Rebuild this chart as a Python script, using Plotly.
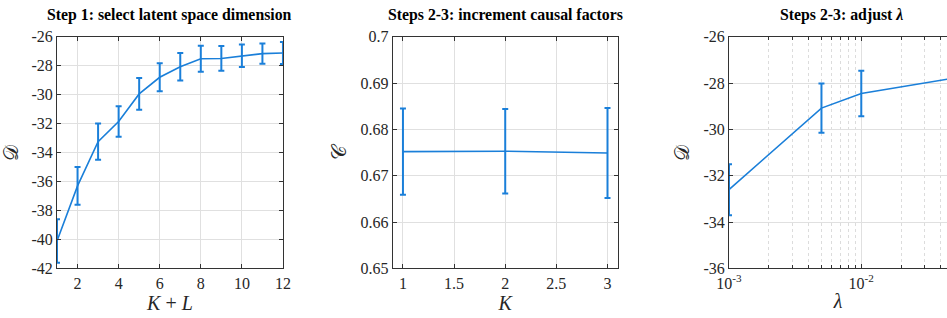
import plotly.graph_objects as go

# Panel 1: select latent space dimension
kl = [1, 2, 3, 4, 5, 6, 7, 8, 9, 10, 11, 12]
d1_mean = [-40.1, -36.3, -33.25, -31.85, -29.95, -28.8, -28.07, -27.52, -27.5, -27.31, -27.17, -27.13]
d1_err = [1.5, 1.3, 1.25, 1.05, 1.1, 0.97, 0.95, 0.9, 0.85, 0.78, 0.7, 0.76]
y1_ticks = [-42, -40, -38, -36, -34, -32, -30, -28, -26]
x1_ticks = [2, 4, 6, 8, 10, 12]

# Panel 2: increment causal factors
k_vals = [1, 2, 3]
c_mean = [0.6752, 0.6753, 0.6749]
c_err = [0.0093, 0.0091, 0.0097]
y2_ticks = [0.65, 0.66, 0.67, 0.68, 0.69, 0.7]
x2_ticks = [1, 1.5, 2, 2.5, 3]

# Panel 3: adjust lambda
lam = [0.001, 0.005, 0.01, 0.05]
d3_mean = [-32.6, -29.08, -28.45, -27.79]
d3_err = [1.1, 1.06, 0.98, 0.95]
y3_ticks = [-36, -34, -32, -30, -28, -26]
x3_ticks = [0.001, 0.01]
x3_labels = ["10<sup>-3</sup>", "10<sup>-2</sup>"]
x3_minor = [0.002, 0.003, 0.004, 0.005, 0.006, 0.007, 0.008, 0.009, 0.02, 0.03, 0.04]

BLUE = "#1a7fd9"
AX = "#333333"
GRID = "#e0e0e0"
SERIF = "Liberation Serif"

fig = go.Figure()

def add(x, y, e, xa, ya):
    fig.add_trace(go.Scatter(
        x=x, y=y, mode="lines", xaxis=xa, yaxis=ya,
        line=dict(color=BLUE, width=1.6),
        error_y=dict(type="data", array=e, visible=True, color=BLUE, thickness=2, width=3),
        showlegend=False, cliponaxis=True))

add(kl, d1_mean, d1_err, "x", "y")
add(k_vals, c_mean, c_err, "x2", "y2")
add(lam, d3_mean, d3_err, "x3", "y3")

def fmt(v):
    return "%g" % v  # plain hyphen minus like the reference

ydom = [0.1557, 0.8846]
common = dict(showline=True, linecolor=AX, linewidth=1, ticks="inside", ticklen=4,
              tickcolor=AX, showgrid=True, gridcolor=GRID, gridwidth=1, zeroline=False,
              automargin=False,
              tickfont=dict(family=SERIF, size=16, color="#262626"))
tfont = dict(family=SERIF, size=20, color="#262626")

fig.update_layout(
    width=947, height=318, margin=dict(l=0, r=0, t=0, b=0),
    paper_bgcolor="white", plot_bgcolor="white",
    xaxis=dict(domain=[0.0602, 0.2988], range=[1, 12], tickvals=x1_ticks,
               ticktext=[fmt(v) for v in x1_ticks],
               mirror="ticks", anchor="y",
               title=dict(text="<i>K</i> + <i>L</i>", font=tfont, standoff=3), **common),
    yaxis=dict(domain=ydom, range=[-42, -26], tickvals=y1_ticks,
               ticktext=[fmt(v) for v in y1_ticks],
               mirror="ticks", anchor="x",
               title=dict(text="𝒟", font=tfont, standoff=8), **common),
    xaxis2=dict(domain=[0.4147, 0.6523], range=[0.9, 3.1], tickvals=x2_ticks,
                ticktext=[fmt(v) for v in x2_ticks],
                mirror="ticks", anchor="y2",
                title=dict(text="<i>K</i>", font=tfont, standoff=3), **common),
    yaxis2=dict(domain=ydom, range=[0.65, 0.7], tickvals=y2_ticks,
                ticktext=[fmt(v) for v in y2_ticks],
                mirror="ticks", anchor="x2",
                title=dict(text="𝒞", font=tfont, standoff=8), **common),
    xaxis3=dict(domain=[0.7698, 1.0], type="log", range=[-3, -1.352],
                tickvals=x3_ticks, ticktext=x3_labels,
                minor=dict(tickvals=x3_minor,
                           ticks="inside", ticklen=3, tickcolor=AX, showgrid=True,
                           gridcolor="#dcdcdc", griddash="dot"),
                mirror="ticks", anchor="y3",
                title=dict(text="<i>λ</i>", font=tfont, standoff=3), **common),
    yaxis3=dict(domain=ydom, range=[-36, -26], tickvals=y3_ticks,
                ticktext=[fmt(v) for v in y3_ticks],
                mirror=False, anchor="x3",
                title=dict(text="𝒟", font=tfont, standoff=8), **common),
)

titles = [("Step 1: select latent space dimension", 0.1795),
          ("Steps 2-3: increment causal factors", 0.5335),
          ("Steps 2-3: adjust <i>λ</i>", 0.8886)]
for t, xc in titles:
    fig.add_annotation(text="<b>" + t + "</b>", x=xc, y=0.953, xref="paper", yref="paper",
                       showarrow=False, xanchor="center", yanchor="middle",
                       font=dict(family=SERIF, size=15.8, color="black"))

fig.write_html("out.html", config={"displayModeBar": False},
               post_script="document.body.style.margin='0';document.body.style.overflow='hidden';")
